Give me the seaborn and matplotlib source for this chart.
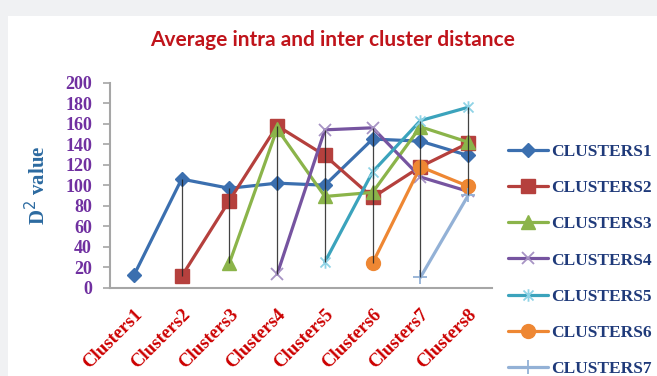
import numpy as np
import pandas as pd
import matplotlib
matplotlib.use("Agg")
import matplotlib.pyplot as plt
import matplotlib.path as mpath
import matplotlib.transforms as mtransforms
from matplotlib.patches import Rectangle
import seaborn as sns

categories = ["Clusters1", "Clusters2", "Clusters3", "Clusters4",
              "Clusters5", "Clusters6", "Clusters7", "Clusters8"]
nan = np.nan
clusters1 = [12, 106, 97, 102, 100, 145, 143, 129]
clusters2 = [nan, 11, 85, 158, 129, 88, 118, 141]
clusters3 = [nan, nan, 24, 155, 89, 93, 157, 142]
clusters4 = [nan, nan, nan, 13, 154, 156, 108, 94]
clusters5 = [nan, nan, nan, nan, 25, 113, 163, 176]
clusters6 = [nan, nan, nan, nan, nan, 24, 118, 99]
clusters7 = [nan, nan, nan, nan, nan, nan, 10, 90]
series_names = ["CLUSTERS1", "CLUSTERS2", "CLUSTERS3", "CLUSTERS4",
                "CLUSTERS5", "CLUSTERS6", "CLUSTERS7"]
y_ticks = list(range(0, 201, 20))

series_values = [clusters1, clusters2, clusters3, clusters4,
                 clusters5, clusters6, clusters7]

# star marker: an "x" crossed by a vertical bar
star = mpath.Path(
    [(-1, -1), (1, 1), (-1, 1), (1, -1), (0, -1.25), (0, 1.25)],
    [mpath.Path.MOVETO, mpath.Path.LINETO, mpath.Path.MOVETO,
     mpath.Path.LINETO, mpath.Path.MOVETO, mpath.Path.LINETO])

styles = {
    "CLUSTERS1": dict(color="#3B6FAF", marker="D", ms=7.5, mec="#3B6FAF", mew=1),
    "CLUSTERS2": dict(color="#B5403D", marker="s", ms=9.5, mec="#B5403D", mew=1),
    "CLUSTERS3": dict(color="#8BB44A", marker="^", ms=10, mec="#8BB44A", mew=1),
    "CLUSTERS4": dict(color="#7654A0", marker="x", ms=9, mec="#A793C4", mew=1.3),
    "CLUSTERS5": dict(color="#3BA3BC", marker=star, ms=9, mec="#8FD3E6", mew=1.3),
    "CLUSTERS6": dict(color="#EE8733", marker="o", ms=10, mec="#EE8733", mew=1),
    "CLUSTERS7": dict(color="#93B1D6", marker="+", ms=10, mec="#93B1D6", mew=1.3),
}

x_pos = np.arange(len(categories))
rows = []
for name, vals in zip(series_names, series_values):
    for xp, v in zip(x_pos, vals):
        rows.append({"series": name, "x": xp, "value": v})
df = pd.DataFrame(rows)

sns.set_style("white")

fig = plt.figure(figsize=(6.57, 3.76), dpi=100)
fig.patch.set_facecolor("#F0F1F3")
fig.add_artist(Rectangle((8 / 657, 0), 1, 1 - 16 / 376, transform=fig.transFigure,
                         facecolor="white", edgecolor="none", zorder=0))

ax = fig.add_axes([110 / 657, 1 - 287.7 / 376, 382 / 657, 205 / 376])
ax.set_facecolor("none")

for name in series_names:
    st = styles[name]
    sub = df[df["series"] == name].dropna()
    sns.lineplot(data=sub, x="x", y="value", ax=ax, color=st["color"],
                 marker=st["marker"], markersize=st["ms"],
                 markeredgecolor=st["mec"], markeredgewidth=st["mew"],
                 linewidth=2.3, label=name, zorder=3, estimator=None)

# high-low lines joining the extremes at every category
wide = df.pivot(index="x", columns="series", values="value")
hi = wide.max(axis=1)
lo = wide.min(axis=1)
mask = wide.count(axis=1) > 1
ax.vlines(wide.index[mask], lo[mask], hi[mask], color="#222222",
          linewidth=0.9, alpha=0.85, zorder=4)

ax.set_xlim(-0.5, len(categories) - 0.5)
ax.set_ylim(0, 200)
ax.set_yticks(y_ticks)
ax.set_yticklabels([str(t) for t in y_ticks], fontfamily="Liberation Serif",
                   fontweight="bold", fontsize=13, color="#7030A0")
ax.set_xticks(x_pos)
ax.set_xticklabels(categories, rotation=45, ha="right", va="top",
                   rotation_mode="anchor", fontfamily="Liberation Serif",
                   fontweight="bold", fontsize=13.5, color="#CC0000")
shift = mtransforms.ScaledTranslation(-4 / 100, 0, fig.dpi_scale_trans)
for lbl in ax.get_xticklabels():
    lbl.set_transform(lbl.get_transform() + shift)
ax.tick_params(axis="y", length=5, width=1.2, color="#A6A6A6", pad=8, left=True)
ax.tick_params(axis="x", length=0, pad=13)
ax.set_xlabel("")
ax.set_ylabel("D$^2$ value", fontfamily="Liberation Serif", fontweight="bold",
              fontsize=15, color="#2C6AA0", labelpad=11)
for side in ["top", "right"]:
    ax.spines[side].set_visible(False)
for side in ["left", "bottom"]:
    ax.spines[side].set_color("#A6A6A6")
    ax.spines[side].set_linewidth(1.5)

fig.text(333 / 657, 1 - 40 / 376, "Average intra and inter cluster distance",
         ha="center", va="center", fontfamily="Lato", fontweight="bold",
         fontsize=15, color="#C0141B")

ax.legend(loc="upper left", bbox_to_anchor=(508 / 657, 1 - 144 / 376),
          bbox_transform=fig.transFigure, frameon=False,
          prop={"family": "Liberation Serif", "weight": "bold", "size": 12.5},
          labelcolor="#1F3A7A", handlelength=2.3, handletextpad=0.2,
          labelspacing=1.15, borderpad=0, borderaxespad=0)

fig.savefig("out.png", dpi=100, facecolor=fig.get_facecolor())
